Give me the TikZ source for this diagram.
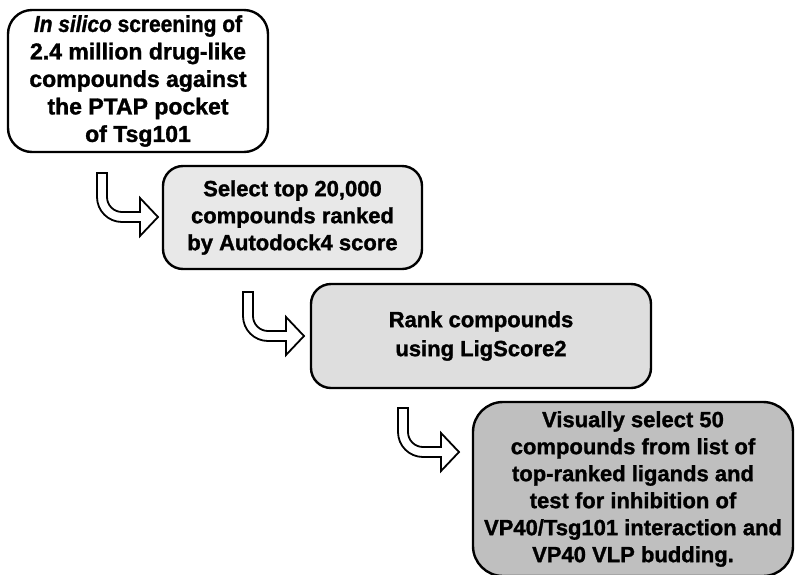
\documentclass[tikz,border=0pt]{standalone}
\usepackage{fontspec}
\setmainfont{Liberation Sans}[BoldFeatures={FakeBold=1.3},BoldItalicFeatures={FakeBold=1.3}]
\begin{document}
\begin{tikzpicture}[x=1pt,y=-1pt,
  box/.style={draw=black,line width=2.4pt,inner sep=0pt,align=center,font=\bfseries},
  arrowline/.style={draw=black,fill=white,line width=1.8pt,line join=miter},
  bentarrow/.pic={
    \path[arrowline] (0,0) -- (0,24) .. controls (0,37.8) and (11.2,49) .. (25,49)
      -- (43,49) -- (43,63) -- (61,44) -- (43,25) -- (43,39) -- (25,39)
      .. controls (16.7,39) and (10,32.3) .. (10,24) -- (10,0) -- cycle;
  }]
\useasboundingbox (0,0) rectangle (796,574);
\clip (0,0) rectangle (796,574);
\fill[white] (0,0) rectangle (796,574);

\node[box,fill=white,rounded corners=24pt,minimum width=260pt,minimum height=142pt,
  font=\bfseries\fontsize{23}{27.5}\selectfont] (s1) at (138,81)
  {\scalebox{0.91}[1]{\textit{In silico} screening of}\\2.4 million drug-like\\compounds against\\the PTAP pocket\\of Tsg101};

\node[box,fill=black!9,rounded corners=20pt,minimum width=259pt,minimum height=103pt,
  font=\bfseries\fontsize{22}{27}\selectfont] (s2) at (292.5,217.5)
  {Select top 20,000\\compounds ranked\\by Autodock4 score};

\node[box,fill=black!13,rounded corners=20pt,minimum width=340pt,minimum height=104pt,
  font=\bfseries\fontsize{22}{29}\selectfont] (s3) at (481,336)
  {Rank compounds\\using LigScore2};

\node[box,fill=black!25,rounded corners=30pt,minimum width=320pt,minimum height=174pt,
  font=\bfseries\fontsize{22}{27}\selectfont] (s4) at (633,489)
  {Visually select 50\\compounds from list of\\top-ranked ligands and\\test for inhibition of\\VP40/Tsg101 interaction and\\VP40 VLP budding.};

\pic (a1) at (97,173) {bentarrow};
\pic (a2) at (243,292) {bentarrow};
\pic (a3) at (398,408) {bentarrow};
\end{tikzpicture}
\end{document}
